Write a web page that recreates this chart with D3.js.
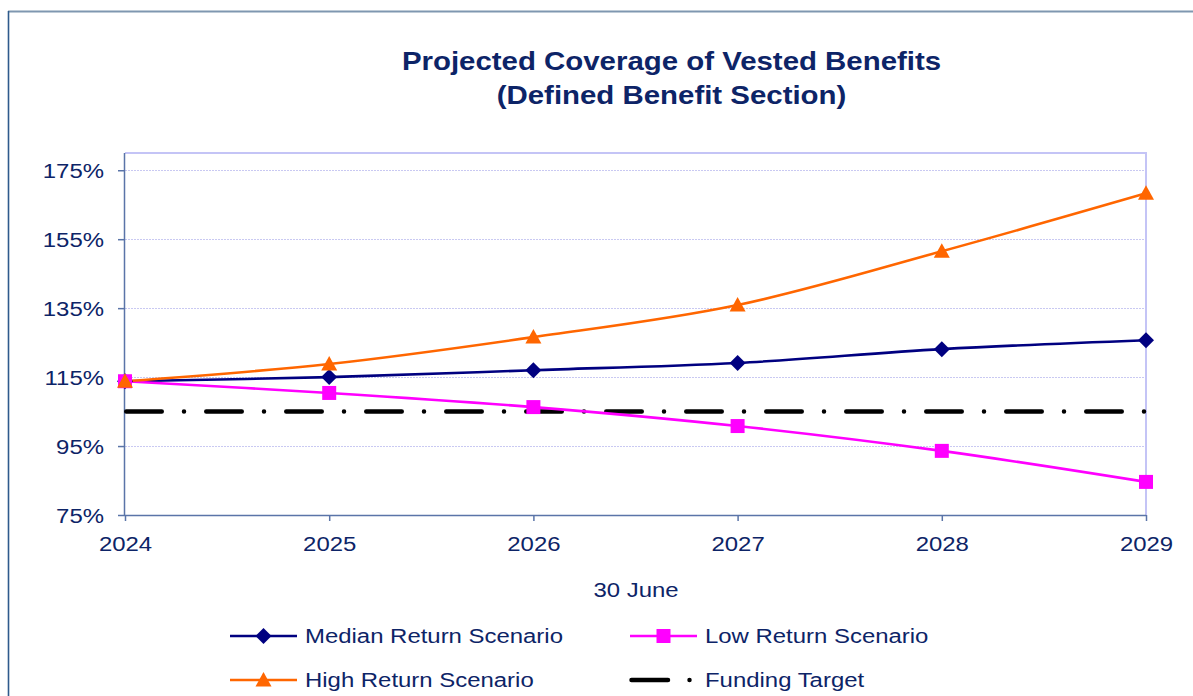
<!DOCTYPE html>
<html>
<head>
<meta charset="utf-8">
<script src="https://cdn.jsdelivr.net/npm/d3@7"></script>
<style>
  html, body { margin: 0; padding: 0; background: #ffffff; }
  svg { display: block; font-family: "Liberation Sans", Arial, sans-serif; }
</style>
</head>
<body>
<svg id="chart" width="1193" height="696"></svg>
<script>
// Projected funding coverage (%) at 30 June of each year
const years = [2024, 2025, 2026, 2027, 2028, 2029];
const medianReturn = [113.8, 115.0, 117.0, 119.1, 123.1, 125.7];
const lowReturn = [113.8, 110.4, 106.3, 100.8, 93.6, 84.6];
const highReturn = [113.8, 118.8, 126.6, 135.9, 151.5, 168.3];
const fundingTarget = 105;
const yTicks = [75, 95, 115, 135, 155, 175];
const titleLines = ["Projected Coverage of Vested Benefits", "(Defined Benefit Section)"];
const xAxisTitle = "30 June";

const svg = d3.select("#chart");
const navyText = "#0d2467";
const axisColor = "#5a74a8";
const bodySize = 21;
const wide = 1.14;   // horizontal stretch of the body lettering

// outer frame (top and left edges)
svg.append("line").attr("x1", 8).attr("x2", 1193).attr("y1", 11.5).attr("y2", 11.5)
  .attr("stroke", "#7f97b0").attr("stroke-width", 2);
svg.append("line").attr("x1", 8.5).attr("x2", 8.5).attr("y1", 11).attr("y2", 696)
  .attr("stroke", "#2e5a8c").attr("stroke-width", 1.6);

// title, two centred lines
svg.append("g").selectAll("text").data(titleLines).join("text")
  .attr("transform", (d, i) => `translate(671.5,${i === 0 ? 70 : 103.5}) scale(1.11,1)`)
  .attr("text-anchor", "middle")
  .attr("fill", navyText)
  .attr("font-size", 26.5).attr("font-weight", "bold")
  .text(d => d);

const plot = { left: 125, right: 1146, top: 153, bottom: 515 };

const x = d3.scalePoint().domain(years).range([plot.left, plot.right]);
const y = d3.scaleLinear().domain([75, 180]).range([plot.bottom, plot.top]);

// gridlines
svg.append("g").selectAll("line").data(yTicks.slice(1)).join("line")
  .attr("x1", plot.left).attr("x2", plot.right)
  .attr("y1", d => Math.round(y(d)) + 0.5).attr("y2", d => Math.round(y(d)) + 0.5)
  .attr("stroke", "#c9c9f2").attr("stroke-width", 1)
  .attr("stroke-dasharray", "2,1");

// plot frame top/right
svg.append("path")
  .attr("d", `M${plot.left},${plot.top}H${plot.right}V${plot.bottom}`)
  .attr("fill", "none").attr("stroke", "#c4c4f6").attr("stroke-width", 2);

// y axis
const yAxis = d3.axisLeft(y).tickValues(yTicks).tickSize(7)
  .tickFormat(d => d + "%");
const gy = svg.append("g").attr("transform", `translate(${plot.left},0)`).call(yAxis);
gy.select(".domain").attr("stroke", axisColor).attr("stroke-width", 1.5)
  .attr("d", `M-0.5,${plot.top}V${plot.bottom}`);
gy.selectAll(".tick line").attr("stroke", axisColor).attr("stroke-width", 1.5);
gy.selectAll(".tick text")
  .attr("x", 0).attr("dy", null).attr("y", 7.5)
  .attr("transform", `translate(-21,0) scale(${wide},1)`)
  .attr("fill", navyText).attr("font-size", bodySize)
  .attr("font-family", "'Liberation Sans', Arial, sans-serif");

// x axis
const xAxis = d3.axisBottom(x).tickSize(6).tickFormat(d3.format("d"));
const gx = svg.append("g").attr("transform", `translate(0,${plot.bottom})`).call(xAxis);
gx.select(".domain").attr("stroke", axisColor).attr("stroke-width", 1.5)
  .attr("d", `M${plot.left},0.5H${plot.right}`);
gx.selectAll(".tick line").attr("stroke", axisColor).attr("stroke-width", 1.5);
gx.selectAll(".tick text")
  .attr("dy", null).attr("y", 36)
  .attr("transform", `scale(${wide},1)`)
  .attr("fill", navyText).attr("font-size", bodySize)
  .attr("font-family", "'Liberation Sans', Arial, sans-serif");

svg.append("text")
  .attr("transform", `translate(636,596.5) scale(${wide},1)`)
  .attr("text-anchor", "middle")
  .attr("fill", navyText).attr("font-size", bodySize).text(xAxisTitle);

// funding target line (long dash, dot)
const dash = { stroke: "#000", width: 4.5, dasharray: "35.5,22.25,0,22.25" };
svg.append("line")
  .attr("x1", x(years[0]) + 1.25).attr("x2", x(years[years.length - 1]))
  .attr("y1", y(fundingTarget)).attr("y2", y(fundingTarget))
  .attr("stroke", dash.stroke).attr("stroke-width", dash.width)
  .attr("stroke-linecap", "round").attr("stroke-dasharray", dash.dasharray);

const series = [
  { name: "Median Return Scenario", values: medianReturn, color: "#000080", marker: "diamond" },
  { name: "Low Return Scenario", values: lowReturn, color: "#ff00ff", marker: "square" },
  { name: "High Return Scenario", values: highReturn, color: "#ff6600", marker: "triangle" }
];

const line = d3.line()
  .x((d, i) => x(years[i]))
  .y(d => y(d))
  .curve(d3.curveCardinal.tension(0));

function markerPath(type) {
  if (type === "diamond") return "M0,-8L8,0L0,8L-8,0Z";
  if (type === "square") return "M-7,-7H7V7H-7Z";
  return "M0,-8L8,6.5H-8Z";
}

series.forEach(s => {
  svg.append("path").datum(s.values)
    .attr("d", line).attr("fill", "none")
    .attr("stroke", s.color).attr("stroke-width", 2.6);
});
// markers drawn in order so later series sit on top at the shared start point
series.forEach(s => {
  svg.append("g").selectAll("path").data(s.values).join("path")
    .attr("transform", (d, i) => `translate(${x(years[i])},${y(d)})`)
    .attr("d", markerPath(s.marker))
    .attr("fill", s.color);
});

// legend
const legendItems = [
  { s: series[0], lx: 230, ly: 636 },
  { s: series[1], lx: 630, ly: 636 },
  { s: series[2], lx: 230, ly: 680 },
  { s: null, name: "Funding Target", lx: 630, ly: 680 }
];
const lg = svg.append("g");
legendItems.forEach(it => {
  const g = lg.append("g").attr("transform", `translate(${it.lx},${it.ly})`);
  if (it.s) {
    g.append("line").attr("x1", 0).attr("x2", 67).attr("y1", 0).attr("y2", 0)
      .attr("stroke", it.s.color).attr("stroke-width", 2.6);
    g.append("path").attr("transform", "translate(33.5,0)")
      .attr("d", markerPath(it.s.marker)).attr("fill", it.s.color);
  } else {
    g.append("line").attr("x1", 1.5).attr("x2", 67).attr("y1", 0).attr("y2", 0)
      .attr("stroke", dash.stroke).attr("stroke-width", dash.width)
      .attr("stroke-linecap", "round").attr("stroke-dasharray", "36.5,21.5,0,100");
  }
  g.append("text")
    .attr("transform", `translate(75,7) scale(${wide},1)`)
    .attr("fill", navyText).attr("font-size", bodySize)
    .text(it.s ? it.s.name : it.name);
});
</script>
</body>
</html>
